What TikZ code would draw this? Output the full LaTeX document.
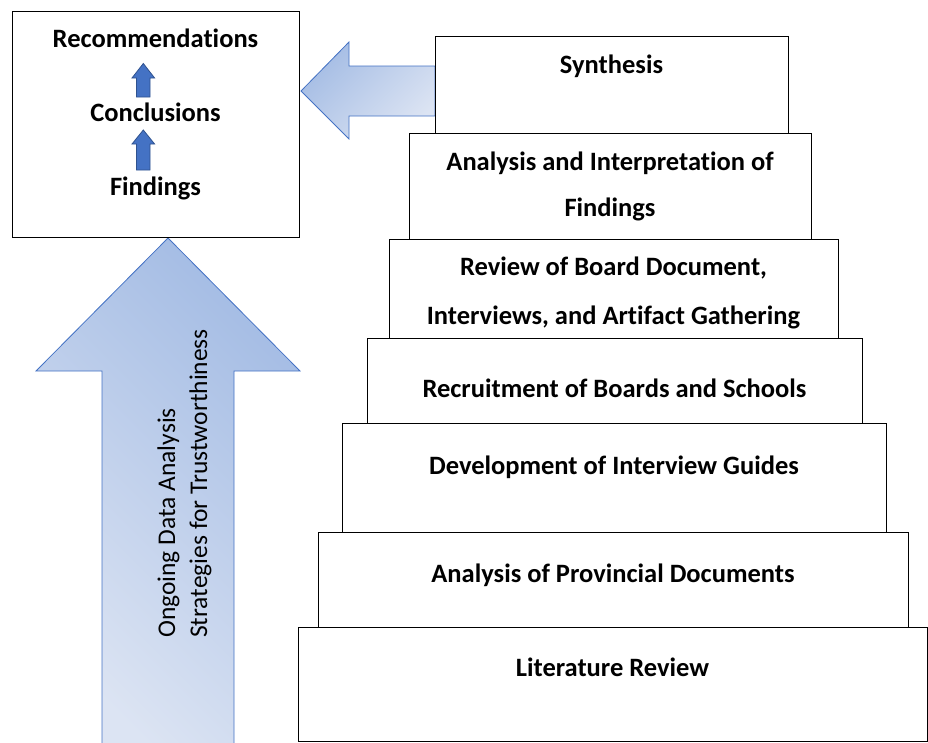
\documentclass[tikz,border=0pt]{standalone}
\usepackage{fontspec}
\setmainfont{Carlito}[Ligatures=NoCommon]
\definecolor{arrowline}{RGB}{68,114,196}
\definecolor{gdark}{RGB}{164,188,228}
\definecolor{glight}{RGB}{220,228,243}
\definecolor{smallfill}{RGB}{68,114,196}
\definecolor{smallline}{RGB}{47,82,143}
\tikzset{
  stepbox/.style={draw=black, line width=1.3pt, fill=white, anchor=north west, inner sep=0pt},
  boldtext/.style={font=\fontsize{26.5}{26.5}\selectfont\bfseries, anchor=base, inner sep=0pt},
  sidetext/.style={font=\fontsize{25.5}{25.5}\selectfont, anchor=base west, rotate=90, inner sep=0pt},
  bigarrow/.style={draw=arrowline, line width=0.8pt, line join=miter},
  smallarrow/.style={draw=smallline, fill=smallfill, line width=0.8pt},
}
\begin{document}
\begin{tikzpicture}[x=1pt, y=-1pt]
\useasboundingbox (0,0) rectangle (928,742);

% big upward arrow
\path[bigarrow, top color=gdark, bottom color=glight, shading angle=-45]
  (102,748) -- (102,371) -- (36,371) -- (168,238) -- (300,371) -- (234,371) -- (234,748) -- cycle;
\node[sidetext] (ongoing) at (175,638) {Ongoing Data Analysis};
\node[sidetext] (strat) at (207,638) {Strategies for Trustworthiness};

% left arrow from synthesis
\path[bigarrow, top color=gdark, bottom color=glight, shading angle=45]
  (301,91) -- (349,42) -- (349,66) -- (435,66) -- (435,116) -- (349,116) -- (349,139) -- cycle;

% top-left box
\node[stepbox, minimum width=287pt, minimum height=226pt] (out) at (12,11) {};
\node[boldtext] (rec) at (155.5,47) {Recommendations};
\node[boldtext] (con) at (155.5,121) {Conclusions};
\node[boldtext] (fin) at (155.5,195) {Findings};
\path[smallarrow] (136.5,97) -- (136.5,78) -- (132,78) -- (143.3,63.5) -- (154.6,78) -- (150,78) -- (150,97) -- cycle;
\path[smallarrow] (136.5,170) -- (136.5,144) -- (132,144) -- (143.3,130) -- (154.6,144) -- (150,144) -- (150,170) -- cycle;

% staircase
\node[stepbox, minimum width=353pt, minimum height=97pt] (s7) at (435,36) {};
\node[stepbox, minimum width=402pt, minimum height=106pt] (s6) at (409,133) {};
\node[stepbox, minimum width=449pt, minimum height=99pt] (s5) at (389,239) {};
\node[stepbox, minimum width=495pt, minimum height=85pt] (s4) at (367,338) {};
\node[stepbox, minimum width=544pt, minimum height=109pt] (s3) at (342,423) {};
\node[stepbox, minimum width=590pt, minimum height=95pt] (s2) at (318,532) {};
\node[stepbox, minimum width=629pt, minimum height=114pt] (s1) at (298,627) {};

\node[boldtext] (t7) at (611.5,73) {Synthesis};
\node[boldtext] (t6a) at (610,170) {Analysis and Interpretation of};
\node[boldtext] (t6b) at (610,216) {Findings};
\node[boldtext] (t5a) at (613.5,275) {Review of Board Document,};
\node[boldtext] (t5b) at (613.5,324) {Interviews, and Artifact Gathering};
\node[boldtext] (t4) at (614.5,397) {Recruitment of Boards and Schools};
\node[boldtext] (t3) at (614,474) {Development of Interview Guides};
\node[boldtext] (t2) at (613,582) {Analysis of Provincial Documents};
\node[boldtext] (t1) at (612.5,676) {Literature Review};
\end{tikzpicture}
\end{document}
